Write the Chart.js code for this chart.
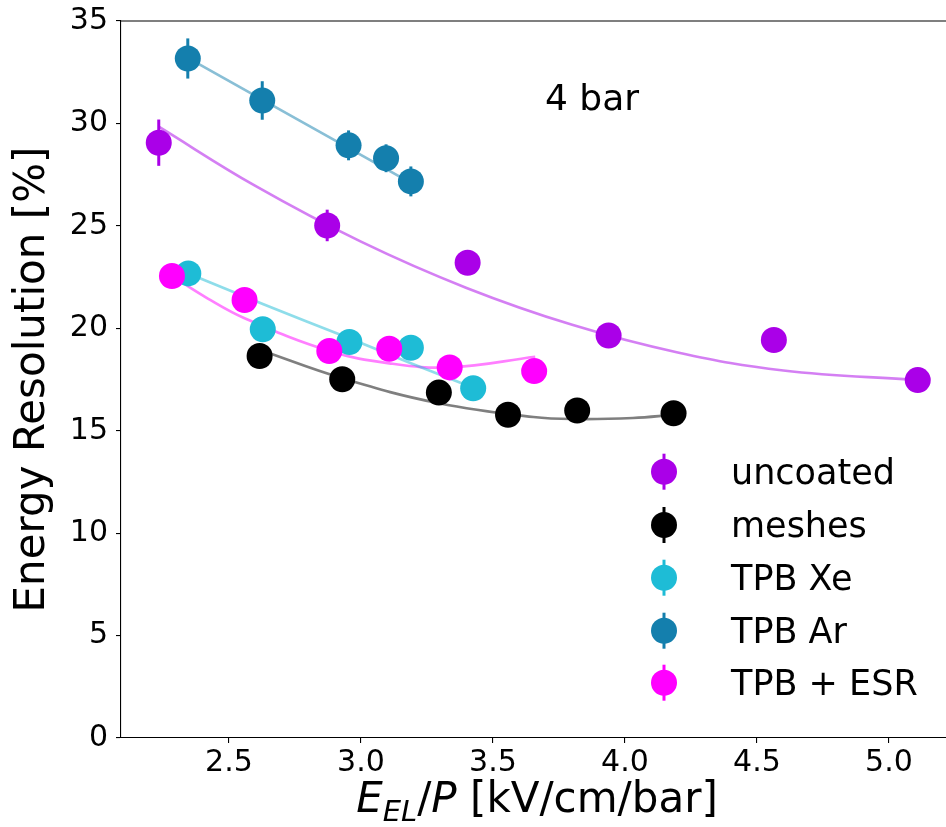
<!DOCTYPE html>
<html>
<head>
<meta charset="utf-8">
<script src="https://cdn.jsdelivr.net/npm/chart.js@4.4.1/dist/chart.umd.min.js"></script>
<style>
  body { margin: 0; background: #fff; }
  #wrap { width: 946px; height: 827px; }
</style>
</head>
<body>
<div id="wrap"><canvas id="myChart" width="946" height="827"></canvas></div>
<script>
// measured points (x = E_EL/P, y = resolution %, err = y error)
const uncoatedX = [2.234, 2.872, 3.404, 3.938, 4.564, 5.109];
const uncoatedY = [29.06, 25.02, 23.2, 19.65, 19.43, 17.47];
const uncoatedErr = [1.13, 0.77, 0.5, 0.5, 0.5, 0.5];

const meshesX = [2.616, 2.929, 3.295, 3.557, 3.819, 4.184];
const meshesY = [18.65, 17.51, 16.86, 15.78, 15.99, 15.85];
const meshesErr = [0.4, 0.4, 0.4, 0.4, 0.4, 0.4];

const xeX = [2.346, 2.628, 2.956, 3.189, 3.425];
const xeY = [22.68, 19.95, 19.33, 19.05, 17.07];
const xeErr = [0.4, 0.4, 0.4, 0.4, 0.4];

const arX = [2.344, 2.626, 2.953, 3.095, 3.189];
const arY = [33.17, 31.12, 28.93, 28.30, 27.17];
const arErr = [0.98, 0.94, 0.73, 0.68, 0.73];

const esrX = [2.284, 2.559, 2.88, 3.107, 3.336, 3.656];
const esrY = [22.55, 21.38, 18.89, 19.0, 18.09, 17.91];
const esrErr = [0.4, 0.4, 0.4, 0.4, 0.4, 0.4];

// fit curves
const uncoatedFitX = [2.234, 2.6, 3.0, 3.4, 3.8, 4.2, 4.6, 5.109];
const uncoatedFitY = [29.84, 26.95, 24.23, 21.97, 20.17, 18.82, 17.94, 17.47];
const meshesFitX = [2.616, 2.929, 3.295, 3.653, 3.819, 4.03, 4.184];
const meshesFitY = [18.95, 17.56, 16.34, 15.67, 15.57, 15.62, 15.77];
const xeFitX = [2.346, 2.628, 2.956, 3.189, 3.425];
const xeFitY = [22.68, 21.19, 19.51, 18.29, 17.1];
const arFitX = [2.344, 2.766, 3.189];
const arFitY = [33.2, 30.15, 27.1];
const esrFitX = [2.284, 2.42, 2.559, 2.88, 3.107, 3.336, 3.66];
const esrFitY = [22.55, 21.45, 20.49, 18.89, 18.29, 18.09, 18.61];

const xTicks = [2.5, 3.0, 3.5, 4.0, 4.5, 5.0];
const yTicks = [0, 5, 10, 15, 20, 25, 30, 35];

const seriesNames = ['uncoated', 'meshes', 'TPB Xe', 'TPB Ar', 'TPB + ESR'];
const seriesColors = ['#aa00e8', '#000000', '#1ebcd6', '#147fad', '#ff00ff'];
const fitColors = ['rgba(170,0,232,0.5)', 'rgba(0,0,0,0.5)', 'rgba(30,188,214,0.5)', 'rgba(20,127,173,0.5)', 'rgba(255,0,255,0.5)'];

const FONT = '"DejaVu Sans", "Liberation Sans", sans-serif';

function pts(xs, ys) {
    return xs.map(function (x, i) { return { x: x, y: ys[i] }; });
}

const markerSets = [
    [uncoatedX, uncoatedY, uncoatedErr],
    [meshesX, meshesY, meshesErr],
    [xeX, xeY, xeErr],
    [arX, arY, arErr],
    [esrX, esrY, esrErr]
];
const fitSets = [
    [uncoatedFitX, uncoatedFitY],
    [meshesFitX, meshesFitY],
    [xeFitX, xeFitY],
    [arFitX, arFitY],
    [esrFitX, esrFitY]
];

var datasets = [];
fitSets.forEach(function (f, i) {
    datasets.push({
        label: seriesNames[i] + ' fit',
        data: pts(f[0], f[1]),
        showLine: true,
        borderColor: fitColors[i],
        borderWidth: 2.7,
        pointRadius: 0,
        tension: 0.4,
        order: 20 + i
    });
});
markerSets.forEach(function (m, i) {
    datasets.push({
        label: seriesNames[i],
        data: pts(m[0], m[1]),
        yErr: m[2],
        showLine: false,
        backgroundColor: seriesColors[i],
        borderColor: seriesColors[i],
        borderWidth: 0,
        pointRadius: 13,
        pointHoverRadius: 13,
        order: 5 - i
    });
});

// error bars drawn right before each marker dataset
const errorBars = {
    id: 'errorBars',
    beforeDatasetDraw(chart, args) {
        const ds = chart.data.datasets[args.index];
        if (!ds.yErr) return;
        const ctx = chart.ctx, xs = chart.scales.x, ys = chart.scales.y;
        ctx.save();
        ctx.strokeStyle = ds.borderColor;
        ctx.lineWidth = 3;
        ds.data.forEach(function (p, i) {
            const px = xs.getPixelForValue(p.x);
            ctx.beginPath();
            ctx.moveTo(px, ys.getPixelForValue(p.y - ds.yErr[i]));
            ctx.lineTo(px, ys.getPixelForValue(p.y + ds.yErr[i]));
            ctx.stroke();
        });
        ctx.restore();
    }
};

// top spine, axis titles, annotation and legend
const decorations = {
    id: 'decorations',
    afterDraw(chart) {
        const ctx = chart.ctx, a = chart.chartArea;
        ctx.save();
        ctx.strokeStyle = '#000';
        ctx.lineWidth = 1.1;
        ctx.beginPath();
        ctx.moveTo(a.left, a.top);
        ctx.lineTo(a.right, a.top);
        ctx.stroke();

        ctx.fillStyle = '#000';
        // x title: E_EL/P [kV/cm/bar]
        const big = 42, small = 29;
        const parts = [
            { t: 'E', f: 'italic ' + big + 'px ' + FONT, dy: 0 },
            { t: 'EL', f: 'italic ' + small + 'px ' + FONT, dy: 9 },
            { t: '/', f: big + 'px ' + FONT, dy: 0 },
            { t: 'P', f: 'italic ' + big + 'px ' + FONT, dy: 0 },
            { t: ' [kV/cm/bar]', f: big + 'px ' + FONT, dy: 0 }
        ];
        let total = 0;
        parts.forEach(function (p) { ctx.font = p.f; p.w = ctx.measureText(p.t).width; total += p.w; });
        let cx = 537 - total / 2;
        const baseY = 812;
        ctx.textBaseline = 'alphabetic';
        ctx.textAlign = 'left';
        parts.forEach(function (p) {
            ctx.font = p.f;
            ctx.fillText(p.t, cx, baseY + p.dy);
            cx += p.w;
        });

        // y title
        ctx.save();
        ctx.translate(44, (a.top + a.bottom) / 2);
        ctx.rotate(-Math.PI / 2);
        ctx.font = '42px ' + FONT;
        ctx.textAlign = 'center';
        ctx.fillText('Energy Resolution [%]', 0, 0);
        ctx.restore();

        // annotation
        ctx.font = '36px ' + FONT;
        ctx.textAlign = 'left';
        ctx.fillText('4 bar', 545, 110);

        // legend
        const rows = [471.7, 525, 577.7, 630.7, 682.7];
        seriesNames.forEach(function (name, i) {
            const y = rows[i];
            ctx.strokeStyle = seriesColors[i];
            ctx.lineWidth = 3;
            ctx.beginPath();
            ctx.moveTo(664, y - 18);
            ctx.lineTo(664, y + 18);
            ctx.stroke();
            ctx.fillStyle = seriesColors[i];
            ctx.beginPath();
            ctx.arc(664, y, 13, 0, Math.PI * 2);
            ctx.fill();
            ctx.fillStyle = '#000';
            ctx.font = '35px ' + FONT;
            ctx.fillText(name, 731, y + 12);
        });
        ctx.restore();
    }
};

const config = {
    type: 'scatter',
    data: { datasets: datasets },
    options: {
        responsive: false,
        animation: false,
        devicePixelRatio: 1,
        layout: { autoPadding: false, padding: { top: 21, right: 0, left: 0, bottom: 0 } },
        plugins: { legend: { display: false }, tooltip: { enabled: false } },
        scales: {
            x: {
                type: 'linear',
                min: 2.091,
                max: 5.216,
                afterBuildTicks: function (s) { s.ticks = xTicks.map(function (v) { return { value: v }; }); },
                afterFit: function (s) { s.height = 89; s.paddingLeft = 0; s.paddingRight = 0; },
                ticks: {
                    color: '#000',
                    font: { family: FONT, size: 30 },
                    padding: 2,
                    maxRotation: 0,
                    autoSkip: false,
                    callback: function (v) { return v.toFixed(1); }
                },
                grid: { display: true, drawOnChartArea: false, drawTicks: true, tickLength: 5, color: '#000', lineWidth: 1.1 },
                border: { display: true, color: '#000', width: 1.1 }
            },
            y: {
                type: 'linear',
                min: 0,
                max: 35,
                afterBuildTicks: function (s) { s.ticks = yTicks.map(function (v) { return { value: v }; }); },
                afterFit: function (s) { s.width = 121; s.paddingTop = 0; s.paddingBottom = 0; },
                ticks: {
                    color: '#000',
                    font: { family: FONT, size: 30 },
                    padding: 8,
                    autoSkip: false
                },
                grid: { display: true, drawOnChartArea: false, drawTicks: true, tickLength: 5, color: '#000', lineWidth: 1.1 },
                border: { display: true, color: '#000', width: 1.1 }
            }
        }
    },
    plugins: [errorBars, decorations]
};

const chart = new Chart(document.getElementById('myChart'), config);
</script>
</body>
</html>
